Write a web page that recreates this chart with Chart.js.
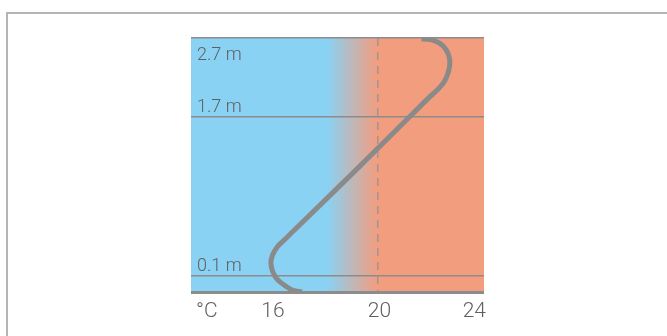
<!DOCTYPE html>
<html>
<head>
  <meta charset="utf-8">
  <title>Temperature profile</title>
  <script src="https://cdn.jsdelivr.net/npm/chart.js@4.4.1/dist/chart.umd.min.js"></script>
  <style>
    body { margin: 0; background: #fff; }
    #wrap { position: relative; width: 667px; height: 336px; }
    #frame { position: absolute; left: 6px; top: 12px; right: 0; bottom: 0;
             border-top: 2px solid #b4b4b4; border-left: 2px solid #b4b4b4; }
    canvas { position: absolute; left: 0; top: 0; }
  </style>
</head>
<body>
<div id="wrap">
  <div id="frame"></div>
  <canvas id="chart" width="667" height="336"></canvas>
</div>

<script>
  // room heights (m) and their labels
  var heights = [0, 0.1, 1.7, 2.7];
  var heightLabels = ['', '0.1 m', '1.7 m', '2.7 m'];
  // temperature axis
  var tempTicks = [16, 20, 24];
  var unitLabel = '°C';
  var comfortTemp = 20;
  var coldUntil = 18.1;
  // temperature profile (floor -> ceiling)
  var profileTemp   = [17.17, 16.83, 16.53, 16.23, 16.06, 16.0, 16.06, 16.23, 16.45, 16.72, 19.35,
                       21.97, 22.29, 22.51, 22.64, 22.71, 22.7, 22.6, 22.43, 22.18, 21.88, 21.65];
  var profileHeight = [0, 0.01, 0.04, 0.08, 0.15, 0.23, 0.31, 0.39, 0.45, 0.52, 1.21,
                       1.96, 2.06, 2.15, 2.25, 2.35, 2.45, 2.54, 2.61, 2.66, 2.685, 2.69];

  // y scale that stretches the height bands like the drawing does
  class StretchScale extends Chart.LinearScale {
    frac(v) {
      var s = this.options.stops, f = this.options.fracs;
      if (v <= s[0]) return f[0];
      for (var i = 1; i < s.length; i++) {
        if (v <= s[i]) return f[i - 1] + (v - s[i - 1]) / (s[i] - s[i - 1]) * (f[i] - f[i - 1]);
      }
      return f[f.length - 1];
    }
    getPixelForValue(v) {
      return this.getPixelForDecimal(this.frac(v));
    }
  }
  StretchScale.id = 'stretch';
  StretchScale.defaults = Chart.LinearScale.defaults;
  Chart.register(StretchScale);

  var points = profileTemp.map(function (t, i) { return { x: t, y: profileHeight[i] }; });

  var background = {
    id: 'background',
    beforeDraw: function (chart) {
      var a = chart.chartArea, ctx = chart.ctx, x = chart.scales.x;
      var g = ctx.createLinearGradient(x.getPixelForValue(coldUntil), 0, x.getPixelForValue(comfortTemp), 0);
      g.addColorStop(0, '#89d2f4');
      g.addColorStop(1, '#f39d7f');
      ctx.save();
      ctx.fillStyle = g;
      ctx.fillRect(a.left, a.top, a.right - a.left, a.bottom - a.top);
      ctx.restore();
    }
  };

  var labels = {
    id: 'labels',
    afterDraw: function (chart) {
      var ctx = chart.ctx, x = chart.scales.x, y = chart.scales.y, a = chart.chartArea;
      ctx.save();
      ctx.fillStyle = '#606060';
      ctx.textBaseline = 'alphabetic';
      ctx.font = '300 18px Roboto, sans-serif';
      ctx.textAlign = 'left';
      heights.forEach(function (h, i) {
        if (!heightLabels[i]) return;
        var py = y.getPixelForValue(h);
        var by = (i === heights.length - 1) ? py + 22 : py - 5;
        ctx.fillText(heightLabels[i], a.left + 6, by);
      });
      ctx.font = '300 21px Roboto, sans-serif';
      var base = a.bottom + 25;
      ctx.fillText(unitLabel, a.left + 5, base);
      tempTicks.forEach(function (t, i) {
        var px = x.getPixelForValue(t) + 2;
        ctx.textAlign = (i === tempTicks.length - 1) ? 'right' : 'center';
        ctx.fillText(String(t), px, base);
      });
      ctx.restore();
    }
  };

  new Chart(document.getElementById('chart'), {
    type: 'line',
    data: {
      datasets: [{
        data: points,
        borderColor: '#8a8a8a',
        borderWidth: 5,
        tension: 0.4,
        pointRadius: 0,
        fill: false
      }]
    },
    options: {
      responsive: false,
      animation: false,
      events: [],
      layout: { padding: { left: 191, right: 183, top: 38, bottom: 44 } },
      plugins: { legend: { display: false }, tooltip: { enabled: false } },
      scales: {
        x: {
          type: 'linear',
          min: 13,
          max: 24,
          afterBuildTicks: function (s) { s.ticks = tempTicks.map(function (v) { return { value: v }; }); },
          ticks: { display: false },
          grid: {
            drawTicks: false,
            lineWidth: 1.5,
            color: function (c) { return c.tick && c.tick.value === comfortTemp ? '#999999' : 'rgba(0,0,0,0)'; }
          },
          border: { display: false, dash: [8, 6] }
        },
        y: {
          type: 'stretch',
          min: 0,
          max: 2.7,
          stops: heights,
          fracs: [0, 0.063, 0.688, 1],
          afterBuildTicks: function (s) { s.ticks = heights.map(function (v) { return { value: v }; }); },
          ticks: { display: false },
          grid: {
            drawTicks: false,
            color: '#8c8c8c',
            lineWidth: function (c) { return c.tick && c.tick.value === 0 ? 3 : 1.5; }
          },
          border: { display: false }
        }
      }
    },
    plugins: [background, labels]
  });
</script>
</body>
</html>
